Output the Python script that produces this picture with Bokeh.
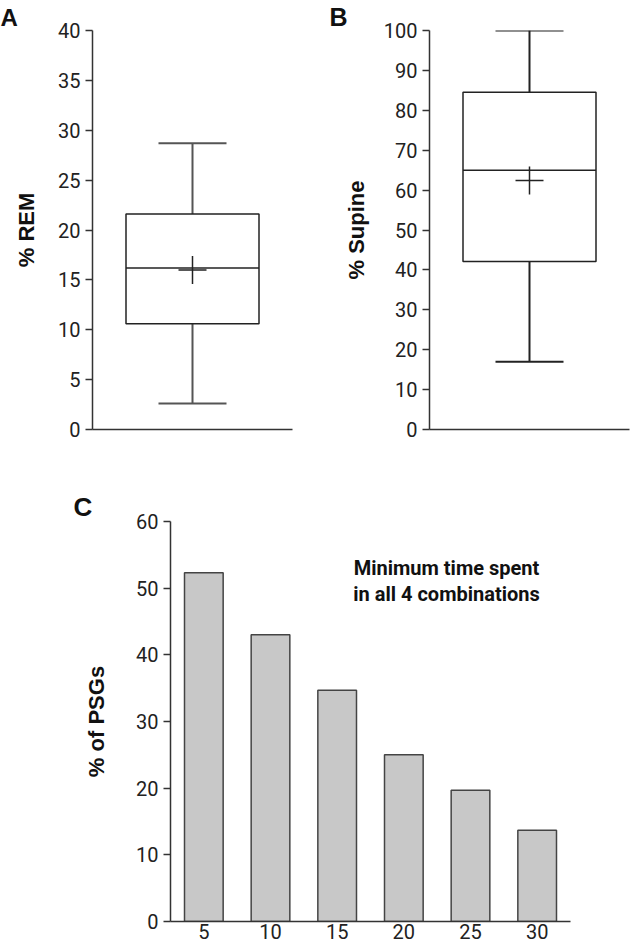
from bokeh.plotting import figure
from bokeh.models import Range1d, FactorRange, FixedTicker, Label, Title
from bokeh.layouts import column, row
from bokeh.embed import file_html
from bokeh.resources import INLINE

# ---------------- data ----------------
# Panel A: % REM  (lower whisker, Q1, median, Q3, upper whisker)
rem_box = [2.6, 10.6, 16.2, 21.6, 28.7]
rem_mean = 16.0
rem_ticks = [0, 5, 10, 15, 20, 25, 30, 35, 40]

# Panel B: % Supine
supine_box = [17.0, 42.1, 65.0, 84.5, 100.0]
supine_mean = 62.4
supine_ticks = [0, 10, 20, 30, 40, 50, 60, 70, 80, 90, 100]

# Panel C: % of PSGs by minimum time spent in all 4 combinations
min_time = ["5", "10", "15", "20", "25", "30"]
pct_psgs = [52.3, 43.0, 34.7, 25.0, 19.7, 13.7]
psg_ticks = [0, 10, 20, 30, 40, 50, 60]

# ---------------- style ----------------
AX = "#333333"
TXT = "#222222"
TICKFONT = "Roboto"
SANS = "Liberation Sans"


def style(p, label_standoff):
    p.outline_line_color = None
    p.xgrid.grid_line_color = None
    p.ygrid.grid_line_color = None
    p.background_fill_color = "white"
    p.border_fill_color = "white"
    for ax in p.axis:
        ax.axis_line_color = AX
        ax.axis_line_width = 1.5
        ax.major_tick_line_color = AX
        ax.major_tick_line_width = 1.5
        ax.major_tick_out = 7
        ax.major_tick_in = 0
        ax.minor_tick_line_color = None
        ax.major_label_text_font = TICKFONT
        ax.major_label_text_font_size = "20px"
        ax.major_label_text_color = TXT
        ax.major_label_standoff = 5
        ax.axis_label_text_font = SANS
        ax.axis_label_text_font_style = "bold"
        ax.axis_label_text_font_size = "22px"
        ax.axis_label_text_color = "#111111"
        ax.axis_label_standoff = label_standoff


def panel_letter(txt, offset, size):
    return Title(text=txt, align="left", offset=offset, standoff=0,
                 vertical_align="bottom", text_font=SANS,
                 text_font_style="bold", text_font_size=f"{size}px",
                 text_color="#111111")


def boxplot(p, stats, mean, col):
    lo, q1, med, q3, hi = stats
    p.segment(x0=[1, 1], y0=[q3, q1], x1=[1, 1], y1=[hi, lo],
              line_color=col, line_width=2)
    p.segment(x0=[0.66, 0.66], y0=[hi, lo], x1=[1.34, 1.34], y1=[hi, lo],
              line_color=col, line_width=2)
    p.quad(left=[0.335], right=[1.665], bottom=[q1], top=[q3],
           fill_color="white", line_color="#222222", line_width=1.5)
    p.segment(x0=[0.335], y0=[med], x1=[1.665], y1=[med],
              line_color="#222222", line_width=1.5)
    p.scatter(x=[1], y=[mean], marker="cross", size=28,
              line_color="#222222", line_width=1.5)


# ---------------- panel A ----------------
pA = figure(width=320, height=470, output_backend="svg", toolbar_location=None,
            x_range=Range1d(0, 2), y_range=Range1d(0, 40),
            min_border_left=92, min_border_right=28,
            min_border_top=30, min_border_bottom=40,
            title=panel_letter("A", -92, 24))
style(pA, 16)
pA.yaxis.ticker = FixedTicker(ticks=rem_ticks)
pA.xaxis.ticker = FixedTicker(ticks=[])
pA.yaxis.axis_label = "% REM"
boxplot(pA, rem_box, rem_mean, "#555555")

# ---------------- panel B ----------------
pB = figure(width=310, height=470, output_backend="svg", toolbar_location=None,
            x_range=Range1d(0, 2), y_range=Range1d(0, 100),
            min_border_left=109, min_border_right=1,
            min_border_top=29, min_border_bottom=41,
            title=panel_letter("B", -100, 25))
style(pB, 12)
pB.yaxis.ticker = FixedTicker(ticks=supine_ticks)
pB.xaxis.ticker = FixedTicker(ticks=[])
pB.yaxis.axis_label = "% Supine"
boxplot(pB, supine_box, supine_mean, "#222222")

# ---------------- panel C ----------------
pC = figure(width=630, height=476, output_backend="svg", toolbar_location=None,
            x_range=FactorRange(factors=min_time, range_padding=0),
            y_range=Range1d(0, 60),
            min_border_left=170, min_border_right=60,
            min_border_top=51, min_border_bottom=25,
            title=panel_letter("C", -97, 26))
style(pC, 24)
pC.yaxis.ticker = FixedTicker(ticks=psg_ticks)
pC.xaxis.major_tick_out = 0
pC.xaxis.major_label_standoff = 2
pC.yaxis.axis_label = "% of PSGs"
pC.vbar(x=min_time, top=pct_psgs, width=0.58, bottom=0,
        fill_color="#c8c8c8", line_color="#444444", line_width=1.5)
for yy, t in [(53.1, "Minimum time spent"), (49.1, "in all 4 combinations")]:
    pC.add_layout(Label(x=4.14, y=yy, text=t, text_font=TICKFONT,
                        text_font_style="bold", text_font_size="20px",
                        text_color="#111111", text_align="center",
                        text_baseline="alphabetic"))

layout = column(row(pA, pB), pC)
open("out.html", "w").write(file_html(layout, INLINE))
